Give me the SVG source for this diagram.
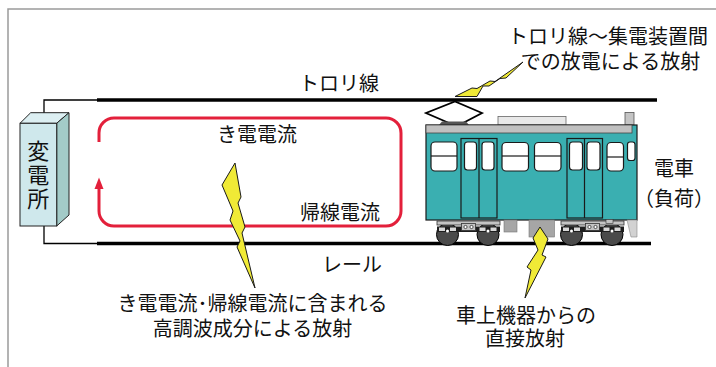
<svg xmlns="http://www.w3.org/2000/svg" width="716" height="367" viewBox="0 0 716 367">
  <style>
    .t { font-family: "Noto Sans CJK JP", "Noto Sans", sans-serif; font-size: 20px; fill: #111; text-anchor: middle; }
    .vt { font-family: "Noto Sans CJK JP", "Noto Sans", sans-serif; font-size: 22px; fill: #111; writing-mode: vertical-rl; letter-spacing: 2px; }
    .wire { stroke: #000; stroke-width: 3.5; fill: none; }
    .thin { stroke: #000; stroke-width: 1.3; fill: none; }
    .bolt { fill: #f0ea36; stroke: #1a1a1a; stroke-width: 1; stroke-linejoin: miter; }
    .win { fill: #fff; stroke: #1a1a1a; stroke-width: 1.2; }
    .door { fill: none; stroke: #1a1a1a; stroke-width: 1.2; }
    .wheel { fill: #4a4a4a; stroke: #000; stroke-width: 1; }
    .frame { fill: #c4c4c4; stroke: #333; stroke-width: 0.8; }
    .band { fill: #1e1e1e; }
    .pad { fill: #d8d8d8; }
    .dot { fill: #fff; stroke: #000; stroke-width: 0.6; }
    .loop { stroke: #e3203b; stroke-width: 3; fill: none; }
  </style>
  <defs>
    <g id="bogie">
      <circle class="wheel" cx="12.5" cy="13.5" r="11"/>
      <circle class="wheel" cx="53" cy="13.5" r="11"/>
      <rect class="frame" x="2" y="0" width="63" height="4"/>
      <rect class="band" x="2" y="5.5" width="63" height="5.5"/>
      <rect class="pad" x="4" y="6.5" width="6" height="3.5"/>
      <rect class="pad" x="15" y="6.5" width="6" height="3.5"/>
      <circle cx="12.5" cy="10" r="1.5" fill="#fff"/>
      <rect class="pad" x="44.5" y="6.5" width="6" height="3.5"/>
      <rect class="pad" x="55.5" y="6.5" width="6" height="3.5"/>
      <circle cx="53" cy="10" r="1.5" fill="#fff"/>
      <rect class="frame" x="26.5" y="2.5" width="14" height="7"/>
      <circle class="dot" cx="30.5" cy="6" r="1.6"/>
      <circle class="dot" cx="36.5" cy="6" r="1.6"/>
    </g>
  </defs>

  <!-- outer frame (top and left edges only) -->
  <path d="M8,367 V9 H716" stroke="#9a9a9a" stroke-width="1.5" fill="none"/>

  <!-- overhead wire and rail -->
  <g id="trolley-wire"><line class="wire" x1="97" y1="100" x2="657" y2="100"/></g>
  <g id="rail"><line class="wire" x1="97" y1="243.5" x2="651" y2="243.5"/></g>

  <!-- feeder connections -->
  <g id="connectors">
    <path class="thin" d="M44,118 V100 H97"/>
    <path class="thin" d="M44,226 V243.5 H97"/>
  </g>

  <!-- substation box -->
  <g id="substation">
    <polygon points="20,123.3 30.7,112.7 69,112.7 56.7,123.3" fill="#dceff2" stroke="#222" stroke-width="1"/>
    <polygon points="56.7,123.3 69,112.7 69,215 56.7,226" fill="#a3cbc8" stroke="#222" stroke-width="1"/>
    <rect x="20" y="123.3" width="36.7" height="102.7" fill="#cfe8ec" stroke="#222" stroke-width="1"/>
    <text class="vt" x="38.3" y="140">変電所</text>
  </g>

  <!-- feeding / return current loop -->
  <g id="current-loop">
    <path class="loop" d="M99,142 V133 A15,15 0 0 1 114,118 H386 A15,15 0 0 1 401,133 V211 A15,15 0 0 1 386,226 H114 A15,15 0 0 1 99,211 V187"/>
    <polygon points="99,177.5 94.5,189 103.5,189" fill="#e3203b"/>
  </g>

  <!-- electric train -->
  <g id="train">
    <!-- pantograph -->
    <line x1="455" y1="100" x2="455" y2="102" stroke="#000" stroke-width="1.2"/>
    <polyline points="449,123 426,113 455,101.5 482,113 463,123" fill="none" stroke="#000" stroke-width="1.8" stroke-linejoin="miter"/>
    <polygon points="442,121.5 466,121.5 469,125 439,125" fill="#555"/>
    <!-- roof equipment -->
    <rect x="498" y="116.5" width="68" height="8.5" fill="#e8e8e8" stroke="#666" stroke-width="0.8"/>
    <rect x="625" y="112.5" width="9" height="12.5" fill="#c4c4c4" stroke="#555" stroke-width="0.8"/>
    <!-- car body -->
    <rect x="426" y="125" width="211" height="95" fill="#3aafb1" stroke="#1a1a1a" stroke-width="1.2"/>
    <rect x="426" y="125" width="206" height="8" fill="#c0c0c0" stroke="#444" stroke-width="0.8"/>
    <!-- windows -->
    <rect class="win" x="431" y="142" width="26" height="29" rx="4"/>
    <line x1="431" y1="156" x2="457" y2="156" stroke="#1a1a1a" stroke-width="1.2"/>
    <rect class="win" x="502" y="142.5" width="26.5" height="28.5" rx="4"/>
    <line x1="502" y1="156" x2="528.5" y2="156" stroke="#1a1a1a" stroke-width="1.2"/>
    <rect class="win" x="534.5" y="142.5" width="26.5" height="28.5" rx="4"/>
    <line x1="534.5" y1="156" x2="561" y2="156" stroke="#1a1a1a" stroke-width="1.2"/>
    <rect class="win" x="607" y="142.5" width="16.5" height="28.5" rx="4"/>
    <line x1="607" y1="157" x2="623.5" y2="157" stroke="#1a1a1a" stroke-width="1.2"/>
    <rect class="win" x="627.5" y="142" width="7.5" height="18.5" rx="2.5"/>
    <!-- doors -->
    <rect class="door" x="461" y="138.5" width="36" height="79.5"/>
    <line x1="479" y1="138.5" x2="479" y2="218" stroke="#1a1a1a" stroke-width="1.2"/>
    <rect class="win" x="464.5" y="142" width="12" height="28" rx="3"/>
    <rect class="win" x="482" y="142" width="12" height="28" rx="3"/>
    <rect class="door" x="567" y="138.5" width="35.5" height="79.5"/>
    <line x1="584.5" y1="138.5" x2="584.5" y2="218" stroke="#1a1a1a" stroke-width="1.2"/>
    <rect class="win" x="569.5" y="142" width="13" height="28" rx="3"/>
    <rect class="win" x="587" y="142" width="13" height="28" rx="3"/>
    <!-- underfloor equipment -->
    <rect x="504" y="220" width="13" height="12" fill="#a6a6a6" stroke="#777" stroke-width="0.6"/>
    <rect x="529" y="220" width="25.5" height="17" fill="#a6a6a6" stroke="#777" stroke-width="0.6"/>
    <polygon points="627,220 637,220 637,237 631,237" fill="#d2d2d2" stroke="#888" stroke-width="0.6"/>
    <!-- bogies -->
    <use href="#bogie" x="435" y="221"/>
    <use href="#bogie" x="559" y="221"/>
    <rect x="606" y="219.5" width="7" height="4" fill="#c4c4c4" stroke="#333" stroke-width="0.6"/>
  </g>

  <!-- radiation bolts -->
  <g id="bolt-pantograph">
    <polygon class="bolt" points="455,96.5 472,88 477,88.5 490,81 495,81.5 523,62 506,78 500,78.5 489,86 483,86 477,96.5"/>
  </g>
  <g id="bolt-current">
    <polygon class="bolt" points="235,163 241,197 238,203 245,227 242,233 255,288 237,247 240,241 230,220 233,211 222,185"/>
  </g>
  <g id="bolt-equipment">
    <polygon class="bolt" points="540,227 548,239 542,255 546,257 525,298 531,270 527,267 538,250 533,238"/>
  </g>

  <!-- labels -->
  <g id="labels">
    <text class="t" x="339" y="91">トロリ線</text>
    <text class="t" x="257" y="141.5">き電電流</text>
    <text class="t" x="340" y="220">帰線電流</text>
    <text class="t" x="352" y="272">レール</text>
    <text class="t" x="674" y="175.5">電車</text>
    <text class="t" x="674" y="205.5">（負荷）</text>
    <text class="t"><tspan x="608" y="44">トロリ線～集電装置間</tspan><tspan x="610.5" y="68.5">での放電による放射</tspan></text>
    <text class="t"><tspan x="252.5" y="311">き電電流･帰線電流に含まれる</tspan><tspan x="252.5" y="336">高調波成分による放射</tspan></text>
    <text class="t"><tspan x="526" y="323">車上機器からの</tspan><tspan x="525" y="346">直接放射</tspan></text>
  </g>
</svg>
